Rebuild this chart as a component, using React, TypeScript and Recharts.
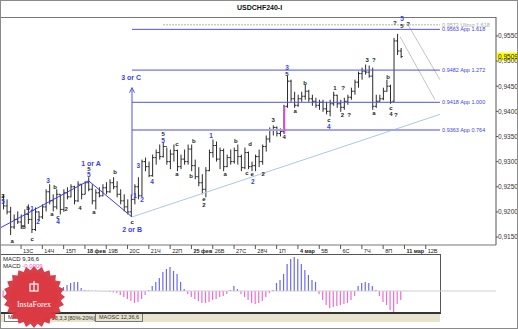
import {
  ComposedChart, Bar, Cell, XAxis, YAxis, ReferenceLine, ReferenceDot,
} from 'recharts';

// USDCHF H4, one entry per bar (bar 0 = first visible bar)
const opens = [
  0.9230, 0.9212, 0.9200, 0.9170, 0.9185, 0.9180, 0.9172, 0.9195, 0.9185, 0.9165,
  0.9200, 0.9190, 0.9210, 0.9240, 0.9222, 0.9210, 0.9235, 0.9205, 0.9238, 0.9230,
  0.9250, 0.9222, 0.9255, 0.9235, 0.9258, 0.9245, 0.9222, 0.9238, 0.9232, 0.9248,
  0.9240, 0.9258, 0.9250, 0.9235, 0.9222, 0.9210, 0.9200, 0.9225, 0.9250, 0.9232,
  0.9300, 0.9290, 0.9272, 0.9308, 0.9318, 0.9310, 0.9330, 0.9300, 0.9315, 0.9322,
  0.9290, 0.9305, 0.9300, 0.9325, 0.9292, 0.9270, 0.9258, 0.9245, 0.9282, 0.9318,
  0.9332, 0.9305, 0.9322, 0.9290, 0.9308, 0.9300, 0.9322, 0.9310, 0.9288, 0.9318,
  0.9290, 0.9292, 0.9310, 0.9300, 0.9330, 0.9345, 0.9362, 0.9368, 0.9356, 0.9360,
  0.9410, 0.9460, 0.9425, 0.9412, 0.9425, 0.9430, 0.9440, 0.9425, 0.9420, 0.9412,
  0.9418, 0.9405, 0.9400, 0.9415, 0.9432, 0.9415, 0.9408, 0.9420, 0.9428, 0.9440,
  0.9458, 0.9475, 0.9480, 0.9478, 0.9470, 0.9410, 0.9420, 0.9425, 0.9440, 0.9450,
  0.9420, 0.9540, 0.9520,
];
const highs = [
  0.9235, 0.9225, 0.9210, 0.9195, 0.9201, 0.9195, 0.9205, 0.9215, 0.9205, 0.9209,
  0.9201, 0.9215, 0.9245, 0.9255, 0.9235, 0.9245, 0.9235, 0.9245, 0.9249, 0.9255,
  0.9252, 0.9261, 0.9255, 0.9261, 0.9269, 0.9255, 0.9245, 0.9249, 0.9255, 0.9259,
  0.9265, 0.9269, 0.9261, 0.9245, 0.9235, 0.9225, 0.9235, 0.9255, 0.9269, 0.9304,
  0.9308, 0.9300, 0.9314, 0.9324, 0.9334, 0.9338, 0.9328, 0.9324, 0.9334, 0.9324,
  0.9314, 0.9324, 0.9334, 0.9334, 0.9304, 0.9289, 0.9275, 0.9289, 0.9324, 0.9344,
  0.9340, 0.9328, 0.9326, 0.9314, 0.9324, 0.9328, 0.9334, 0.9314, 0.9328, 0.9320,
  0.9300, 0.9314, 0.9324, 0.9334, 0.9352, 0.9368, 0.9372, 0.9370, 0.9366, 0.9413,
  0.9471, 0.9463, 0.9439, 0.9433, 0.9439, 0.9453, 0.9443, 0.9433, 0.9427, 0.9423,
  0.9423, 0.9419, 0.9423, 0.9439, 0.9433, 0.9423, 0.9427, 0.9433, 0.9447, 0.9463,
  0.9479, 0.9487, 0.9493, 0.9491, 0.9487, 0.9433, 0.9433, 0.9447, 0.9463, 0.9453,
  0.9546, 0.9554, 0.9526,
];
const lows = [
  0.9205, 0.9195, 0.9154, 0.9166, 0.9176, 0.9166, 0.9170, 0.9176, 0.9158, 0.9162,
  0.9182, 0.9186, 0.9201, 0.9215, 0.9201, 0.9205, 0.9195, 0.9200, 0.9225, 0.9229,
  0.9215, 0.9220, 0.9225, 0.9235, 0.9241, 0.9215, 0.9205, 0.9229, 0.9231, 0.9235,
  0.9238, 0.9245, 0.9229, 0.9215, 0.9201, 0.9195, 0.9190, 0.9215, 0.9225, 0.9230,
  0.9281, 0.9269, 0.9270, 0.9294, 0.9304, 0.9308, 0.9294, 0.9285, 0.9300, 0.9281,
  0.9285, 0.9294, 0.9294, 0.9281, 0.9265, 0.9251, 0.9235, 0.9229, 0.9281, 0.9308,
  0.9300, 0.9285, 0.9281, 0.9289, 0.9294, 0.9296, 0.9294, 0.9281, 0.9285, 0.9285,
  0.9281, 0.9281, 0.9289, 0.9294, 0.9320, 0.9338, 0.9352, 0.9350, 0.9350, 0.9355,
  0.9407, 0.9419, 0.9407, 0.9409, 0.9419, 0.9423, 0.9419, 0.9411, 0.9407, 0.9403,
  0.9399, 0.9394, 0.9390, 0.9411, 0.9407, 0.9399, 0.9403, 0.9413, 0.9423, 0.9433,
  0.9447, 0.9463, 0.9473, 0.9467, 0.9403, 0.9407, 0.9419, 0.9422, 0.9439, 0.9415,
  0.9419, 0.9512, 0.9506,
];
const closes = [
  0.9212, 0.9200, 0.9170, 0.9185, 0.9180, 0.9172, 0.9195, 0.9185, 0.9165, 0.9200,
  0.9190, 0.9210, 0.9240, 0.9222, 0.9210, 0.9235, 0.9205, 0.9238, 0.9230, 0.9250,
  0.9222, 0.9255, 0.9235, 0.9258, 0.9245, 0.9222, 0.9238, 0.9232, 0.9248, 0.9240,
  0.9258, 0.9250, 0.9235, 0.9222, 0.9210, 0.9200, 0.9225, 0.9250, 0.9232, 0.9300,
  0.9290, 0.9272, 0.9308, 0.9318, 0.9310, 0.9330, 0.9300, 0.9315, 0.9322, 0.9290,
  0.9305, 0.9300, 0.9325, 0.9292, 0.9270, 0.9258, 0.9245, 0.9282, 0.9318, 0.9332,
  0.9305, 0.9322, 0.9290, 0.9308, 0.9300, 0.9322, 0.9310, 0.9288, 0.9318, 0.9290,
  0.9292, 0.9310, 0.9300, 0.9330, 0.9345, 0.9362, 0.9368, 0.9356, 0.9360, 0.9410,
  0.9460, 0.9425, 0.9412, 0.9425, 0.9430, 0.9440, 0.9425, 0.9420, 0.9412, 0.9418,
  0.9405, 0.9400, 0.9415, 0.9432, 0.9415, 0.9408, 0.9420, 0.9428, 0.9440, 0.9458,
  0.9475, 0.9480, 0.9478, 0.9470, 0.9410, 0.9420, 0.9425, 0.9440, 0.9450, 0.9418,
  0.9540, 0.9520, 0.9509,
];

// MACD(9,36,6) histogram, one value per bar
const macdHist = [
  -0.0006, -0.0008, -0.0009, -0.0009, -0.0008, -0.0006, -0.0005, -0.0003, -0.0002, -0.0001,
  0, 0.0001, 0.0002, 0.0002, 0.0003, 0.0003, 0.0003, 0.0004, 0.0006, 0.0008,
  0.0009, 0.0009, 0.0003, 0.0001, 0.00005, 0.00003, 0.00002, -0.00003, -0.00005, -0.00005,
  -0.0001, -0.00015, -0.0002, -0.0004, -0.0006, -0.0008, -0.0010, -0.0012, -0.0011, -0.0008,
  -0.0004, 0.0001, 0.0005, 0.0009, 0.0013, 0.0019, 0.0022, 0.0024, 0.0020, 0.0017,
  0.0009, 0.0002, -0.0003, -0.0006, -0.0008, -0.0010, -0.0012, -0.0012, -0.0011, -0.0009,
  -0.0008, -0.0006, -0.0005, -0.0003, 0.0001, 0.0005, 0.0002, -0.0003, -0.0006, -0.0009,
  -0.0012, -0.0013, -0.0012, -0.0010, -0.0006, -0.0002, 0.0001, 0.0008, 0.0011, 0.0017,
  0.0027, 0.0032, 0.0034, 0.0032, 0.0027, 0.0021, 0.0016, 0.0011, 0.0009, -0.0003,
  -0.0009, -0.0014, -0.0017, -0.0016, -0.0015, -0.0014, -0.0013, -0.0012, -0.0009, -0.0005,
  0.0005, 0.0008, 0.0009, 0.0008, 0.0005, 0.0001, -0.0005, -0.0011, -0.0014, -0.0019,
  -0.0021, -0.0013, -0.0009,
];

const priceTicks = [0.915, 0.92, 0.925, 0.93, 0.935, 0.94, 0.945, 0.95, 0.955];
const lastPrice = 0.9509;

// first bar of each day on the time axis
const dayTickBars = [5, 11, 17, 23, 29, 35, 41, 47, 53, 59, 65, 71, 77, 83, 89, 95, 101, 107, 113, 119];
const dayTickLabels = [
  '13С', '14Ч', '15П', '18 фев', '19В', '20С', '21Ч', '22П', '25 фев', '26В',
  '27С', '28Ч', '1П', '4 мар', '5В', '6С', '7Ч', '8П', '11 мар', '12В',
];

// fibonacci targets
const fibPrices = [0.9563, 0.9482, 0.9418, 0.9363];
const fibRatios = ['1.618', '1.272', '1.000', '0.764'];
const ulimoPrice = 0.9572;
const waveBLow = 0.9190;
const waveAHigh = 0.9262;

// wave counts: bar index, price, text, kind (k black, b blue, B big blue)
const waveMarks: [number, number, string, string][] = [
  [-0.1, 0.9231, '3', 'k'], [-0.1, 0.9221, '5', 'b'], [2.5, 0.9142, 'a', 'k'],
  [5.8, 0.9170, 'b', 'k'], [7.0, 0.9208, 'b', 'k'], [8.1, 0.9206, '1', 'b'],
  [8.1, 0.9146, 'c', 'k'], [9.8, 0.9180, '2', 'b'], [12.6, 0.9262, '3', 'b'],
  [13.7, 0.9196, 'a', 'k'], [14.6, 0.9249, 'b', 'k'], [15.4, 0.9190, 'c', 'k'],
  [15.4, 0.9180, '4', 'b'], [17.7, 0.9206, '2', 'k'], [21.6, 0.9208, '4', 'k'],
  [24.1, 0.9285, '5', 'k'], [24.1, 0.9275, '5', 'b'], [24.7, 0.9297, '1 or A', 'B'],
  [25.5, 0.9200, 'a', 'k'], [31.5, 0.9279, 'b', 'k'], [36.3, 0.9180, 'c', 'k'],
  [36.3, 0.9166, '2 or B', 'B'], [36.0, 0.9467, '3 or C', 'B'], [37.1, 0.9233, '1', 'b'],
  [39.1, 0.9225, '2', 'b'], [38.0, 0.9293, '3', 'b'], [41.9, 0.9261, '4', 'b'],
  [45, 0.9354, '5', 'k'], [45, 0.9343, '5', 'b'], [48.9, 0.9336, 'c', 'k'],
  [48.9, 0.9275, 'a', 'k'], [52.9, 0.9272, 'b', 'k'], [53.7, 0.9342, 'b', 'k'],
  [56.5, 0.9225, 'e', 'k'], [56.5, 0.9213, '2', 'k'], [58.5, 0.9352, '1', 'b'],
  [62.5, 0.9275, 'a', 'k'], [65.5, 0.9342, 'b', 'k'], [68.6, 0.9277, 'c', 'k'],
  [69.5, 0.9336, 'd', 'k'], [70.1, 0.9275, 'e', 'k'], [70.3, 0.9261, '2', 'b'],
  [73.2, 0.9275, '2', 'k'], [76, 0.9382, '3', 'k'], [79.1, 0.9348, '4', 'k'],
  [79.9, 0.9487, '3', 'b'], [79.9, 0.9475, '5', 'k'], [82.2, 0.9401, 'a', 'k'],
  [85, 0.9457, 'b', 'k'], [91.7, 0.9382, 'c', 'k'], [91.7, 0.9370, '4', 'b'],
  [93.4, 0.9447, '1', 'k'], [95.7, 0.9447, '?', 'k'], [95.5, 0.9392, '2', 'k'],
  [97.4, 0.9392, '?', 'k'], [102.5, 0.9503, '3', 'k'], [104.4, 0.9503, '?', 'k'],
  [104.4, 0.9396, 'a', 'k'], [108.4, 0.9469, 'b', 'k'], [109.2, 0.9406, 'c', 'k'],
  [109.2, 0.9394, '4', 'k'], [110.6, 0.9392, '?', 'k'], [110.3, 0.9576, '?', 'k'],
  [112.3, 0.9584, '5', 'b'], [112.3, 0.9570, '5', 'k'], [114, 0.9574, '?', 'k'],
];

// layout
const BAR_X0 = 3.3;
const BAR_STEP = 3.55;
const PLOT_W = 496;
const X_MIN = -BAR_X0 / BAR_STEP;
const X_MAX = (PLOT_W - BAR_X0) / BAR_STEP;
const Y_MIN = 0.91342;
const Y_MAX = 0.95876;
const FIB_START = 36.25;
const FIB_END = 123;
const FIB_LABEL = 123.6;

const BLUE = '#3c3cf0';
const FONT = 'Liberation Sans, Arial, sans-serif';

const priceRows = opens.map((o, i) => ({
  i, open: o, high: highs[i], low: lows[i], close: closes[i], range: [lows[i], highs[i]],
}));
const macdRows = macdHist.map((m, i) => ({ i, m }));

function OhlcBar(props: any) {
  const { x, y, width, height } = props;
  const d = props.payload ?? props;
  if (d == null || d.high == null) return null;
  const cx = x + width / 2;
  const top = Math.min(y, y + height);
  const bot = Math.max(y, y + height);
  const span = d.high - d.low || 1;
  const yOf = (v: number) => top + ((d.high - v) / span) * (bot - top);
  return (
    <g stroke="#2b2b2b" strokeWidth={1}>
      <line x1={cx} x2={cx} y1={top} y2={bot} />
      <line x1={cx - 1.6} x2={cx} y1={yOf(d.open)} y2={yOf(d.open)} />
      <line x1={cx} x2={cx + 1.6} y1={yOf(d.close)} y2={yOf(d.close)} />
    </g>
  );
}

function DayTick(props: any) {
  const { x, y, payload } = props;
  const k = dayTickBars.indexOf(payload.value);
  const label = dayTickLabels[k] ?? '';
  const month = label.includes(' ');
  return (
    <g>
      <line x1={x} x2={x} y1={y} y2={y + 4} stroke="#555" />
      <text x={x + 2} y={y + 7.5} fontSize={5.5} fontWeight={month ? 700 : 400} fill="#222" fontFamily={FONT}>
        {label}
      </text>
    </g>
  );
}

const markShape = (text: string, kind: string) => (p: any) => (
  <text
    x={p.cx}
    y={p.cy}
    textAnchor="middle"
    dominantBaseline="central"
    fontFamily={FONT}
    fontWeight={700}
    fontSize={kind === 'B' ? 7 : kind === 'b' ? 6.5 : 6}
    fill={kind === 'k' ? '#1c1c1c' : BLUE}
  >
    {text}
  </text>
);

const levelText = (text: string, color: string) => (p: any) => (
  <text x={p.cx} y={p.cy} dominantBaseline="central" fontFamily={FONT} fontSize={5.5} fill={color}>
    {text}
  </text>
);

const starPts = Array.from({ length: 48 }, (_, k) => {
  const a = (k * Math.PI) / 24;
  const r = k % 2 ? 27 : 31;
  return `${(34 + r * Math.sin(a)).toFixed(1)},${(35 - r * Math.cos(a)).toFixed(1)}`;
}).join(' ');

export default function App() {
  return (
    <div
      style={{
        position: 'fixed', left: 0, top: 0, width: 518, height: 329, overflow: 'hidden',
        backgroundColor: '#ffffff',
        backgroundImage: 'radial-gradient(#d9d9d2 0.6px, transparent 0.7px)',
        backgroundSize: '4px 4px',
        fontFamily: FONT,
      }}
    >
      {/* title */}
      <div style={{ position: 'absolute', left: 0, top: 0, width: 518, height: 17, textAlign: 'center' }}>
        <span style={{ position: 'absolute', left: 237, top: 4, fontSize: 7, fontWeight: 700, color: '#111' }}>
          USDCHF240-I
        </span>
      </div>
      <div style={{ position: 'absolute', left: 0, top: 17, width: 496, height: 1, background: '#777' }} />

      {/* price panel */}
      <div style={{ position: 'absolute', left: 0, top: 0 }}>
        <ComposedChart width={518} height={256} data={priceRows} margin={{ top: 17, right: 0, bottom: 0, left: 0 }}>
          <XAxis
            type="number"
            dataKey="i"
            domain={[X_MIN, X_MAX]}
            allowDataOverflow
            ticks={dayTickBars}
            interval={0}
            height={11}
            tickSize={0}
            tickMargin={0}
            tickLine={false}
            axisLine={{ stroke: '#777' }}
            tick={<DayTick />}
          />
          <YAxis
            orientation="right"
            width={22}
            domain={[Y_MIN, Y_MAX]}
            allowDataOverflow
            ticks={priceTicks}
            interval={0}
            tickSize={2}
            tickMargin={0}
            axisLine={{ stroke: '#555' }}
            tickLine={{ stroke: '#555' }}
            tick={{ fontSize: 6.5, fill: '#333', fontFamily: FONT }}
            tickFormatter={(v: number) => v.toFixed(4).replace('.', ',')}
          />

          {/* wave A / B line and trend lines */}
          <ReferenceLine segment={[{ x: X_MIN, y: 0.9168 }, { x: 24, y: waveAHigh }]} stroke={BLUE} strokeWidth={1} ifOverflow="visible" />
          <ReferenceLine segment={[{ x: 24, y: waveAHigh }, { x: 36.25, y: waveBLow }]} stroke={BLUE} strokeWidth={1} ifOverflow="visible" />
          <ReferenceLine segment={[{ x: 36.25, y: waveBLow }, { x: FIB_END, y: 0.9394 }]} stroke="#a9c9e6" strokeWidth={1} ifOverflow="visible" />
          <ReferenceLine segment={[{ x: 114, y: 0.9572 }, { x: FIB_END, y: 0.9463 }]} stroke="#c4c4c4" ifOverflow="visible" />
          <ReferenceLine segment={[{ x: 111.8, y: 0.9548 }, { x: 121.6, y: 0.9423 }]} stroke="#c4c4c4" ifOverflow="visible" />

          {/* fibonacci levels */}
          <ReferenceLine segment={[{ x: 45, y: ulimoPrice }, { x: FIB_END, y: ulimoPrice }]} stroke="#b0b0b0" strokeDasharray="2 1" ifOverflow="visible" />
          {fibPrices.map((p, k) => (
            <ReferenceLine
              key={'fib' + k}
              segment={[{ x: FIB_START, y: p }, { x: FIB_END, y: p }]}
              stroke={k === 3 ? '#a4a4f4' : '#5050f0'}
              strokeWidth={k === 3 ? 2 : 1}
              ifOverflow="visible"
            />
          ))}
          <ReferenceDot x={FIB_LABEL} y={ulimoPrice} r={0} ifOverflow="visible"
            shape={levelText(`${ulimoPrice.toFixed(4)} Ulimo 1.618`, '#a8a8a8')} />
          {fibPrices.map((p, k) => (
            <ReferenceDot key={'fl' + k} x={FIB_LABEL} y={p} r={0} ifOverflow="visible"
              shape={levelText(`${p.toFixed(4)} App ${fibRatios[k]}`, '#4040ee')} />
          ))}

          {/* 3 or C arrow */}
          <ReferenceLine segment={[{ x: 36.25, y: 0.9231 }, { x: 36.25, y: 0.9447 }]} stroke="#5050f0" ifOverflow="visible" />
          <ReferenceDot x={36.25} y={0.9447} r={0} ifOverflow="visible"
            shape={(p: any) => (
              <path d={`M${p.cx - 2.5},${p.cy + 5} L${p.cx},${p.cy} L${p.cx + 2.5},${p.cy + 5}`} stroke="#5050f0" fill="none" />
            )} />

          <Bar dataKey="range" barSize={2} shape={<OhlcBar />} isAnimationActive={false} />

          {/* pink marker bar */}
          <ReferenceLine segment={[{ x: 79.2, y: 0.9355 }, { x: 79.2, y: 0.9410 }]} stroke="#f03cf0" strokeWidth={1.5} ifOverflow="visible" />

          {waveMarks.map(([i, p, t, kind], k) => (
            <ReferenceDot key={'w' + k} x={i} y={p} r={0} ifOverflow="visible" shape={markShape(t, kind)} />
          ))}

          {/* last price tag */}
          <ReferenceDot x={X_MAX} y={lastPrice} r={0} ifOverflow="visible"
            shape={(p: any) => (
              <g>
                <rect x={p.cx + 1} y={p.cy - 4} width={20} height={8} fill="#ffff00" />
                <text x={p.cx + 2} y={p.cy} dominantBaseline="central" fontSize={6.5} fontFamily={FONT} fill="#222">
                  {lastPrice.toFixed(4).replace('.', ',')}
                </text>
              </g>
            )} />
        </ComposedChart>
      </div>

      {/* MACD panel */}
      <div style={{ position: 'absolute', left: 0, top: 254, width: 441, height: 60, border: '1px solid #555', borderBottom: '2px solid #333', boxSizing: 'border-box' }} />
      <div style={{ position: 'absolute', left: 0, top: 255 }}>
        <ComposedChart width={PLOT_W} height={58} data={macdRows} margin={{ top: 1, right: 0, bottom: 1, left: 0 }}>
          <XAxis type="number" dataKey="i" domain={[X_MIN, X_MAX]} allowDataOverflow hide />
          <YAxis domain={[-0.0021, 0.0035]} allowDataOverflow hide />
          <ReferenceLine y={0} stroke="#cfcfcf" />
          <Bar dataKey="m" barSize={1.2} isAnimationActive={false}>
            {macdRows.map((r) => (
              <Cell key={r.i} fill={r.m >= 0 ? '#6a6af0' : '#ee6cd8'} />
            ))}
          </Bar>
        </ComposedChart>
      </div>
      <div style={{ position: 'absolute', left: 3, top: 256, fontSize: 6, lineHeight: '6.5px', color: '#222' }}>
        <div>MACD 9,36,6</div>
        <div>MACD <span style={{ color: '#ee5cd0' }}>-0,0009</span></div>
      </div>

      {/* indicator tabs */}
      <div style={{ position: 'absolute', left: 1, top: 314, width: 439, height: 8, background: '#e7e3cc' }} />
      <div style={{ position: 'absolute', left: 4, top: 314, height: 7, padding: '0 3px', background: '#fff', border: '1px solid #777', borderTop: 'none', fontSize: 5.5, lineHeight: '7px', color: '#222' }}>MACD</div>
      <div style={{ position: 'absolute', left: 36, top: 315, fontSize: 5.5, lineHeight: '7px', color: '#333' }}>Stoch 13,3,3</div>
      <div style={{ position: 'absolute', left: 68, top: 315, fontSize: 5.5, lineHeight: '7px', color: '#333' }}>[80%-20%]</div>
      <div style={{ position: 'absolute', left: 95, top: 314, height: 7, padding: '0 3px', border: '1px solid #777', borderTop: 'none', fontSize: 5.5, lineHeight: '7px', color: '#333' }}>MAOSC 12,36,6</div>
      <div style={{ position: 'absolute', left: 0, top: 0, width: 518, height: 329, border: '1px solid #8a8a8a', boxSizing: 'border-box' }} />

      {/* InstaForex badge */}
      <svg width={70} height={70} style={{ position: 'absolute', left: 0, top: 262 }}>
        <polygon points={starPts} fill="#d8343c" opacity={0.95} />
        <circle cx={34} cy={35} r={24} fill="#db3a42" />
        <rect x={30} y={22} width={8} height={7} fill="none" stroke="#fff" strokeWidth={1.2} />
        <line x1={34} x2={34} y1={19} y2={29} stroke="#fff" strokeWidth={1.2} />
        <text x={34} y={45} textAnchor="middle" fontSize={8} fill="#fff" fontFamily="Liberation Serif, serif">
          InstaForex
        </text>
      </svg>
    </div>
  );
}
